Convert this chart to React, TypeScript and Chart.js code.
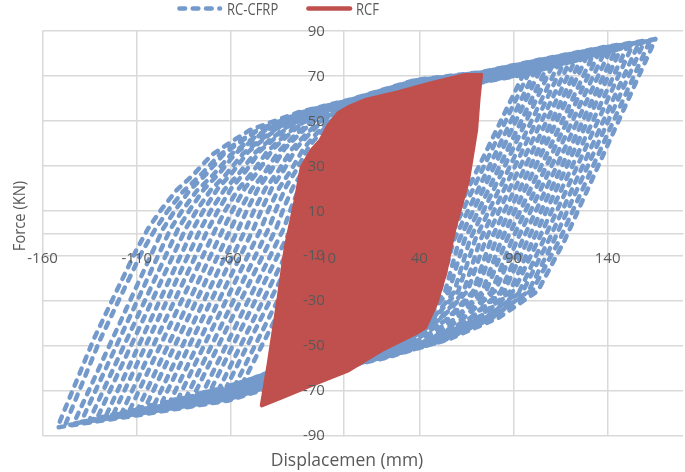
import React, { useEffect, useRef } from 'react';
import { Chart, registerables } from 'chart.js';

Chart.register(...registerables);

// ---------- axes ----------
const xTicks = [-160, -110, -60, -10, 40, 90, 140];
const yTicks = [-90, -70, -50, -30, -10, 10, 30, 50, 70, 90];
const xMin = -160;
const xMax = 180;
const yMin = -90;
const yMax = 90;
const xTitle = 'Displacemen (mm)';
const yTitle = 'Force (KN)';
const seriesNames = ['RC-CFRP', 'RCF'];

type P = [number, number];

// ---------- RC-CFRP hysteresis cycles (displacement mm, force kN), innermost first; "b" = repeat cycle ----------
const cfrpCycle1: P[] = [[98.1,71.3],[55.6,-3],[48.6,-26.4],[38.4,-38.9],[25.0,-49.2],[10.0,-56.6],[1.9,-56.7],[-20,-57.9],[-43.6,-63.2],[-57.6,-67.3],[-16,2],[-12.6,11.7],[-8.6,21.5],[-4.2,29.6],[0.7,39.9],[5.6,46.4],[10.5,52.4],[23.3,61.6],[36.2,63.4],[72.8,67.3],[98.1,71.3]];
const cfrpCycle1b: P[] = [[95.1,70.5],[52.8,-3],[46.0,-25.8],[35.8,-38.3],[22.4,-48.6],[7.4,-56.0],[1.9,-56.5],[-20,-57.6],[-43.6,-62.9],[-53.6,-66.5],[-12,2],[-9.1,11.2],[-5.1,21.0],[-0.7,29.1],[4.2,39.4],[8.6,45.9],[13.5,51.9],[25.3,61.6],[36.2,63.2],[72.8,67.1],[95.1,70.5]];
const cfrpCycle2: P[] = [[104.2,72.7],[61.2,-3],[53.6,-26.3],[42.4,-38.8],[27.7,-49.0],[11.3,-56.4],[2.5,-56.8],[-20,-58.5],[-43.6,-63.8],[-66.2,-69.1],[-24,2],[-20.2,11.6],[-15.9,21.3],[-11.1,29.2],[-5.7,39.4],[-0.4,45.8],[5.0,51.8],[18.9,60.9],[33.1,63.0],[37.9,64.2],[72.8,67.7],[104.2,72.7]];
const cfrpCycle2b: P[] = [[101.2,71.9],[58.4,-3],[51.0,-25.7],[39.8,-38.2],[25.1,-48.4],[8.7,-55.8],[2.5,-56.7],[-20,-58.2],[-43.6,-63.5],[-62.2,-68.2],[-20,2],[-16.7,11.1],[-12.4,20.8],[-7.6,28.7],[-2.2,38.9],[2.6,45.3],[8.0,51.3],[20.9,60.9],[33.1,62.8],[37.9,64.0],[72.8,67.5],[101.2,71.9]];
const cfrpCycle3: P[] = [[110.4,74.1],[66.8,-3],[58.5,-26.2],[46.4,-38.7],[30.4,-48.9],[12.6,-56.3],[3.0,-57.0],[-20,-59.1],[-43.6,-64.4],[-61.1,-69.0],[-74.8,-70.8],[-32,2],[-27.9,11.5],[-23.3,21.1],[-18.0,28.9],[-12.2,39.0],[-6.3,45.3],[-0.5,51.2],[14.6,60.2],[30.0,62.6],[37.9,64.6],[72.8,68.1],[103,73.5],[110.4,74.1]];
const cfrpCycle3b: P[] = [[107.4,73.3],[64.0,-3],[55.9,-25.6],[43.8,-38.1],[27.8,-48.3],[10.0,-55.7],[3.0,-56.9],[-20,-58.8],[-43.6,-64.1],[-61.1,-68.7],[-70.8,-69.9],[-28,2],[-24.4,11.0],[-19.8,20.6],[-14.5,28.4],[-8.7,38.5],[-3.3,44.8],[2.5,50.7],[16.6,60.2],[30.0,62.4],[37.9,64.4],[72.8,67.9],[103,73.3],[107.4,73.3]];
const cfrpCycle4: P[] = [[116.5,75.4],[72.4,-3],[63.4,-26.2],[50.4,-38.6],[33.1,-48.8],[13.8,-56.1],[3.5,-57.1],[-20,-59.7],[-43.6,-65.0],[-61.1,-69.6],[-83.4,-72.5],[-40,2],[-35.6,11.4],[-30.6,20.9],[-24.9,28.6],[-18.6,38.6],[-12.3,44.8],[-6.0,50.6],[10.4,59.5],[27.0,62.3],[37.9,65.0],[72.8,68.5],[103,73.9],[116.5,75.4]];
const cfrpCycle4b: P[] = [[113.5,74.6],[69.6,-3],[60.8,-25.6],[47.8,-38.0],[30.5,-48.2],[11.2,-55.5],[3.5,-57.0],[-20,-59.4],[-43.6,-64.7],[-61.1,-69.3],[-79.4,-71.7],[-36,2],[-32.1,10.9],[-27.1,20.4],[-21.4,28.1],[-15.1,38.1],[-9.3,44.3],[-3.0,50.1],[12.4,59.5],[27.0,62.1],[37.9,64.8],[72.8,68.3],[103,73.7],[113.5,74.6]];
const cfrpCycle5: P[] = [[122.6,76.8],[78.0,-3],[68.4,-26.1],[54.3,-38.5],[35.8,-48.7],[15.1,-56.0],[4.0,-57.3],[-20,-60.3],[-43.6,-65.6],[-61.1,-70.2],[-91.9,-74.3],[-48,2],[-43.3,11.3],[-37.9,20.6],[-31.8,28.3],[-25.0,38.1],[-18.2,44.3],[-11.5,50.0],[6.1,58.8],[23.9,61.9],[37.9,65.4],[72.8,68.9],[103,74.3],[122.6,76.8]];
const cfrpCycle5b: P[] = [[119.6,76.0],[75.2,-3],[65.8,-25.5],[51.7,-37.9],[33.2,-48.1],[12.5,-55.4],[4.0,-57.2],[-20,-60.0],[-43.6,-65.3],[-61.1,-69.9],[-87.9,-73.5],[-44,2],[-39.8,10.8],[-34.4,20.1],[-28.3,27.8],[-21.5,37.6],[-15.2,43.8],[-8.5,49.5],[8.1,58.8],[23.9,61.7],[37.9,65.2],[72.8,68.7],[103,74.1],[119.6,76.0]];
const cfrpCycle6: P[] = [[128.7,78.2],[83.6,-3],[73.3,-26.1],[58.3,-38.5],[38.6,-48.6],[16.4,-55.9],[4.6,-57.5],[-20,-60.9],[-43.6,-66.2],[-61.1,-70.8],[-100.5,-76.0],[-56,2],[-50.9,11.2],[-45.2,20.4],[-38.6,27.9],[-31.4,37.7],[-24.2,43.7],[-17.0,49.4],[1.8,58.1],[20.8,61.5],[37.9,65.8],[72.8,69.3],[103,74.7],[128.7,78.2]];
const cfrpCycle6b: P[] = [[125.7,77.4],[80.8,-3],[70.7,-25.5],[55.7,-37.9],[36.0,-48.0],[13.8,-55.3],[4.6,-57.4],[-20,-60.6],[-43.6,-65.9],[-61.1,-70.5],[-96.5,-75.1],[-52,2],[-47.4,10.7],[-41.7,19.9],[-35.1,27.4],[-27.9,37.2],[-21.2,43.2],[-14.0,48.9],[3.8,58.1],[20.8,61.3],[37.9,65.6],[72.8,69.1],[103,74.5],[125.7,77.4]];
const cfrpCycle7: P[] = [[134.9,79.5],[89.2,-3],[78.3,-26.0],[62.3,-38.4],[41.3,-48.5],[17.7,-55.8],[5.1,-57.7],[-20,-61.5],[-43.6,-66.8],[-61.1,-71.4],[-109.1,-77.7],[-64,2],[-58.6,11.0],[-52.5,20.1],[-45.5,27.6],[-37.9,37.2],[-30.2,43.2],[-22.5,48.8],[-2.6,57.4],[17.7,61.1],[37.9,66.2],[72.8,69.7],[103,75.1],[134.9,79.5]];
const cfrpCycle7b: P[] = [[131.9,78.7],[86.4,-3],[75.7,-25.4],[59.7,-37.8],[38.7,-47.9],[15.1,-55.2],[5.1,-57.6],[-20,-61.2],[-43.6,-66.5],[-61.1,-71.1],[-105.1,-76.9],[-60,2],[-55.1,10.5],[-49.0,19.6],[-42.0,27.1],[-34.4,36.7],[-27.2,42.7],[-19.5,48.3],[-0.6,57.4],[17.7,60.9],[37.9,66.0],[72.8,69.5],[103,74.9],[131.9,78.7]];
const cfrpCycle8: P[] = [[141.0,80.9],[94.8,-3],[83.2,-26.0],[66.3,-38.3],[44.0,-48.4],[19.0,-55.6],[5.6,-57.8],[-20,-62.1],[-43.6,-67.4],[-61.1,-72.0],[-110.3,-78.7],[-117.7,-79.5],[-72,2],[-66.3,10.9],[-59.8,19.9],[-52.4,27.3],[-44.3,36.8],[-36.1,42.7],[-28.0,48.3],[-6.8,56.7],[14.7,60.8],[37.9,66.6],[72.8,70.1],[103,75.5],[141.0,80.9]];
const cfrpCycle8b: P[] = [[138.0,80.1],[92.0,-3],[80.6,-25.4],[63.7,-37.7],[41.4,-47.8],[16.4,-55.0],[5.6,-57.7],[-20,-61.8],[-43.6,-67.1],[-61.1,-71.7],[-113.7,-78.7],[-68,2],[-62.8,10.4],[-56.3,19.4],[-48.9,26.8],[-40.8,36.3],[-33.1,42.2],[-25.0,47.8],[-4.8,56.7],[14.7,60.6],[37.9,66.4],[72.8,69.9],[103,75.3],[138.0,80.1]];
const cfrpCycle9: P[] = [[147.1,82.3],[100.4,-3],[88.1,-25.9],[70.2,-38.2],[46.6,-48.3],[20.2,-55.5],[6.1,-58.0],[-20,-62.7],[-43.6,-68.0],[-61.1,-72.6],[-110.3,-79.3],[-126.3,-81.2],[-80,2],[-74.0,10.8],[-67.1,19.7],[-59.3,27.0],[-50.7,36.3],[-42.1,42.2],[-33.5,47.7],[-11.1,56.0],[11.6,60.4],[37.9,67.0],[72.8,70.5],[103,75.9],[138.4,81.7],[147.1,82.3]];
const cfrpCycle9b: P[] = [[144.1,81.5],[97.6,-3],[85.5,-25.3],[67.6,-37.6],[44.0,-47.7],[17.6,-54.9],[6.1,-57.9],[-20,-62.4],[-43.6,-67.7],[-61.1,-72.3],[-110.3,-79.0],[-122.3,-80.4],[-76,2],[-70.5,10.3],[-63.6,19.2],[-55.8,26.5],[-47.2,35.8],[-39.1,41.7],[-30.5,47.2],[-9.1,56.0],[11.6,60.2],[37.9,66.8],[72.8,70.3],[103,75.7],[144.1,81.5]];
const cfrpCycle10: P[] = [[153.2,83.7],[106.0,-3],[93.1,-25.9],[74.2,-38.2],[49.4,-48.2],[21.6,-55.5],[6.7,-58.2],[-20,-63.3],[-43.6,-68.6],[-61.1,-73.2],[-110.3,-79.9],[-134.9,-82.9],[-88,2],[-81.6,10.7],[-74.4,19.5],[-66.2,26.6],[-57.1,35.9],[-48.0,41.6],[-39.0,47.0],[-15.4,55.3],[8.5,60.0],[37.9,67.4],[72.8,70.9],[103,76.3],[138.4,82.1],[153.2,83.7]];
const cfrpCycle10b: P[] = [[150.2,82.9],[103.2,-3],[90.5,-25.3],[71.6,-37.6],[46.8,-47.6],[19.0,-54.9],[6.7,-58.1],[-20,-63.0],[-43.6,-68.3],[-61.1,-72.9],[-110.3,-79.6],[-130.9,-82.1],[-84,2],[-78.1,10.2],[-70.9,19.0],[-62.7,26.1],[-53.6,35.4],[-45.0,41.1],[-36.0,46.5],[-13.4,55.3],[8.5,59.8],[37.9,67.2],[72.8,70.7],[103,76.1],[138.4,81.9],[150.2,82.9]];
const cfrpCycle11: P[] = [[159.4,85.1],[111.6,-3],[98.0,-25.8],[78.2,-38.0],[52.1,-48.0],[22.9,-55.3],[7.2,-58.3],[-20,-63.9],[-43.6,-69.2],[-61.1,-73.8],[-110.3,-80.5],[-143.5,-84.7],[-96,2],[-89.3,10.6],[-81.7,19.3],[-73.1,26.3],[-63.5,35.5],[-54.0,41.2],[-44.4,46.5],[-19.7,54.6],[5.5,59.7],[37.9,67.8],[72.8,71.3],[103,76.7],[138.4,82.5],[159.4,85.1]];
const cfrpCycle11b: P[] = [[156.4,84.3],[108.8,-3],[95.4,-25.2],[75.6,-37.4],[49.5,-47.4],[20.3,-54.7],[7.2,-58.2],[-20,-63.6],[-43.6,-68.9],[-61.1,-73.5],[-110.3,-80.2],[-139.5,-83.9],[-92,2],[-85.8,10.1],[-78.2,18.8],[-69.6,25.8],[-60.0,35.0],[-51.0,40.7],[-41.4,46.0],[-17.7,54.6],[5.5,59.5],[37.9,67.6],[72.8,71.1],[103,76.5],[138.4,82.3],[156.4,84.3]];
const cfrpCycle12: P[] = [[165.4,86.4],[117.2,-3.1],[103.0,-25.6],[82.2,-37.6],[54.8,-47.5],[24.1,-54.6],[7.7,-57.9],[-20,-64.5],[-43.6,-69.8],[-61.1,-74.4],[-110.3,-81.1],[-152.1,-86.4],[-133,-47.5],[-122,-28],[-110.5,-8],[-104,2],[-97,10.5],[-89,19],[-80,26],[-70,35],[-60,40.6],[-50,45.9],[-24,53.9],[2.4,59.3],[37.9,68.2],[72.8,71.7],[103,77.1],[138.4,82.9],[165.4,86.4]];
const cfrpCycle12b: P[] = [[162.4,85.6],[114.4,-3.1],[100.4,-25.0],[79.6,-37.0],[52.2,-46.9],[21.5,-54.0],[7.7,-57.8],[-20,-64.2],[-43.6,-69.5],[-61.1,-74.1],[-110.3,-80.8],[-148.1,-85.6],[-129.5,-47.5],[-118.5,-28],[-107,-8],[-100,2],[-93.5,10.0],[-85.5,18.5],[-76.5,25.5],[-66.5,34.5],[-57,40.1],[-47,45.4],[-22,53.9],[2.4,59.1],[37.9,68.0],[72.8,71.5],[103,76.9],[138.4,82.7],[162.4,85.6]];

// ---------- RCF hysteresis loop (outer boundary) ----------
const rcfLoop: P[] = [[72.8,70.5],[71.5,60],[70.2,45.9],[65.9,23.6],[58.5,1.3],[53.8,-17.8],[49.0,-31.2],[43.2,-41.9],[37.9,-44.6],[19.9,-52.1],[2.4,-61.0],[-15.0,-66.8],[-33.0,-73.1],[-43.6,-76.6],[-39.9,-57.9],[-34.6,-28.5],[-30.9,-6.2],[-25.6,14.7],[-22.4,29.4],[-17.1,37.0],[-12.4,41.4],[-8.1,48.1],[-2.9,53.5],[2.4,56.1],[11.4,59.3],[28.9,62.8],[46.3,66.8],[64.3,70.4],[72.8,70.5]];

const cfrpCycles = [
  cfrpCycle1, cfrpCycle1b, cfrpCycle2, cfrpCycle2b, cfrpCycle3, cfrpCycle3b, cfrpCycle4, cfrpCycle4b,
  cfrpCycle5, cfrpCycle5b, cfrpCycle6, cfrpCycle6b, cfrpCycle7, cfrpCycle7b, cfrpCycle8, cfrpCycle8b,
  cfrpCycle9, cfrpCycle9b, cfrpCycle10, cfrpCycle10b, cfrpCycle11, cfrpCycle11b, cfrpCycle12, cfrpCycle12b,
];

const BLUE = 'rgb(116,153,203)';
const RED = 'rgb(192,80,77)';
const GRID = '#d9d9d9';
const TEXT = '#595959';
const FONT = '"Open Sans", "DejaVu Sans", sans-serif';

const textPlugin = {
  id: 'textPlugin',
  afterDatasetsDraw(chart: any) {
    const { ctx, scales } = chart;
    const xs = scales.x;
    const ys = scales.y;
    const x0 = xs.getPixelForValue(0);
    const y0 = ys.getPixelForValue(0);
    ctx.save();
    ctx.fillStyle = TEXT;
    ctx.font = `15px ${FONT}`;
    ctx.textAlign = 'right';
    ctx.textBaseline = 'middle';
    yTicks.forEach((v) => ctx.fillText(String(v), x0 - 19, ys.getPixelForValue(v) + 0.5));
    ctx.textAlign = 'center';
    xTicks.forEach((v) => ctx.fillText(String(v), xs.getPixelForValue(v), y0 + 25.5));

    // axis titles
    ctx.font = `17.5px ${FONT}`;
    ctx.textBaseline = 'alphabetic';
    ctx.fillText(xTitle, 347, 466);
    ctx.save();
    ctx.translate(25, 216);
    ctx.rotate(-Math.PI / 2);
    ctx.scale(0.92, 1);
    ctx.font = `16px ${FONT}`;
    ctx.textAlign = 'center';
    ctx.fillText(yTitle, 0, 0);
    ctx.restore();

    // legend
    ctx.lineCap = 'round';
    ctx.strokeStyle = BLUE;
    ctx.lineWidth = 4.7;
    ctx.setLineDash([5.5, 7.8]);
    ctx.beginPath();
    ctx.moveTo(179.5, 8.5);
    ctx.lineTo(220, 8.5);
    ctx.stroke();
    ctx.setLineDash([]);
    ctx.strokeStyle = RED;
    ctx.beginPath();
    ctx.moveTo(308.5, 8.5);
    ctx.lineTo(350, 8.5);
    ctx.stroke();
    ctx.font = `15.5px ${FONT}`;
    ctx.textAlign = 'left';
    ctx.textBaseline = 'alphabetic';
    ctx.save();
    ctx.translate(227, 15);
    ctx.scale(0.84, 1);
    ctx.fillText(seriesNames[0], 0, 0);
    ctx.restore();
    ctx.save();
    ctx.translate(356, 15);
    ctx.scale(0.84, 1);
    ctx.fillText(seriesNames[1], 0, 0);
    ctx.restore();
    ctx.restore();
  },
};

export default function App() {
  const canvasRef = useRef<HTMLCanvasElement | null>(null);

  useEffect(() => {
    const canvas = canvasRef.current;
    if (!canvas) return;
    const toXY = (arr: P[]) => arr.map(([x, y]) => ({ x, y }));
    const cfrpData = cfrpCycles.flatMap((c) => toXY(c));
    const rcfData = toXY(rcfLoop);

    const chart = new Chart(canvas, {
      type: 'line',
      data: {
        datasets: [
          {
            label: seriesNames[1],
            data: rcfData,
            borderColor: RED,
            backgroundColor: RED,
            borderWidth: 4,
            borderJoinStyle: 'round',
            borderCapStyle: 'round',
            pointRadius: 0,
            fill: 'shape',
            tension: 0,
          },
          {
            label: seriesNames[0],
            data: cfrpData,
            borderColor: BLUE,
            backgroundColor: BLUE,
            borderWidth: 4.5,
            borderDash: [5.5, 7.5],
            borderCapStyle: 'round',
            borderJoinStyle: 'round',
            pointRadius: 0,
            fill: false,
            tension: 0,
          },
        ],
      } as any,
      options: {
        animation: false,
        responsive: false,
        layout: { padding: { left: 42.5, right: 2, top: 31, bottom: 36.5 } },
        plugins: { legend: { display: false }, tooltip: { enabled: false } },
        scales: {
          x: {
            type: 'linear',
            min: xMin,
            max: xMax,
            position: { y: 0 },
            afterBuildTicks: (s: any) => {
              s.ticks = xTicks.map((v) => ({ value: v }));
            },
            ticks: { display: false },
            grid: {
              color: (c: any) => (c.tick && c.tick.value === -10 ? 'rgba(0,0,0,0)' : GRID),
              lineWidth: 1.5,
              drawTicks: false,
            },
            border: { color: GRID, width: 1.5 },
          },
          y: {
            type: 'linear',
            min: yMin,
            max: yMax,
            position: { x: 0 },
            afterBuildTicks: (s: any) => {
              s.ticks = yTicks.map((v) => ({ value: v }));
            },
            ticks: { display: false },
            grid: { color: GRID, lineWidth: 1.5, drawTicks: false },
            border: { color: GRID, width: 1.5 },
          },
        },
      } as any,
      plugins: [textPlugin],
    });
    return () => chart.destroy();
  }, []);

  return (
    <div style={{ position: 'fixed', left: 0, top: 0, width: 685, height: 472, background: '#fff' }}>
      <canvas ref={canvasRef} width={685} height={472} style={{ display: 'block' }} />
    </div>
  );
}
